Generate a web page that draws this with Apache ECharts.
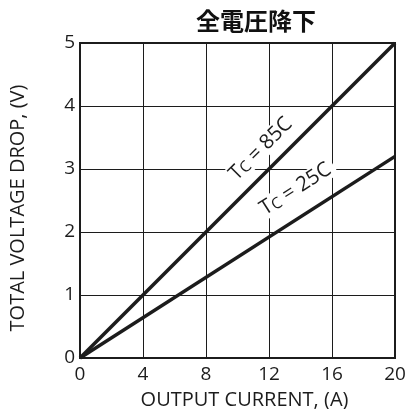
<!DOCTYPE html>
<html>
<head>
<meta charset="utf-8">
<script src="https://cdn.jsdelivr.net/npm/echarts@6/dist/echarts.min.js"></script>
<style>
  html, body { margin: 0; padding: 0; background: #fff; }
  #chart { width: 409px; height: 409px; }
</style>
</head>
<body>
<div id="chart"></div>
<script>
// Output current (A) sample points and voltage drop (V) per case temperature
const currentA = [0, 20];
const drop85C = [0, 5.0];
const drop25C = [0, 3.2];
const xTicks = [0, 4, 8, 12, 16, 20];
const yTicks = [0, 1, 2, 3, 4, 5];

// where along each line (in amps) the curve label sits
const label85At = 12.4;
const label25At = 14.6;

const INK = '#1c1c1c';
const FONT = '"Open Sans", "Noto Sans", sans-serif';

function lineAt(xs, ys, x) {
  const t = (x - xs[0]) / (xs[1] - xs[0]);
  return ys[0] + t * (ys[1] - ys[0]);
}

function curveLabel(xs, ys, at, temp, angle, lift) {
  return {
    symbol: 'circle',
    symbolSize: 0,
    silent: true,
    data: [{ coord: [at, lineAt(xs, ys, at)] }],
    label: {
      show: true,
      position: 'inside',
      rotate: angle,
      offset: [0, -lift],
      formatter: 'T{sub|C} = ' + temp,
      color: INK,
      fontFamily: FONT,
      fontSize: 20.5,
      backgroundColor: '#fff',
      padding: [0, 5, 0, 4],
      rich: {
        sub: { fontSize: 15.5, fontFamily: FONT, color: INK, padding: [5, 0, 0, 0] }
      }
    }
  };
}

const chart = echarts.init(document.getElementById('chart'), null, { renderer: 'canvas' });

chart.setOption({
  animation: false,
  backgroundColor: '#fff',
  title: {
    text: '全電圧降下',
    left: 251,
    top: 4,
    textAlign: 'center',
    textStyle: { fontFamily: '"Noto Sans CJK JP", sans-serif', fontSize: 24, fontWeight: 'bold', color: '#111' }
  },
  grid: {
    left: 80, top: 43, width: 315, height: 315,
    containLabel: false,
    outerBoundsMode: 'none',
    show: true, borderColor: INK, borderWidth: 2, backgroundColor: 'transparent'
  },
  xAxis: {
    type: 'value', min: 0, max: 20, interval: 4,
    name: 'OUTPUT CURRENT, (A)',
    nameLocation: 'middle', nameGap: 32,
    nameTextStyle: { fontFamily: FONT, fontSize: 20, color: INK, padding: [0, 0, 0, 14] },
    axisLine: { show: true, lineStyle: { color: INK, width: 2 } },
    axisTick: { show: false },
    axisLabel: {
      fontFamily: FONT, fontSize: 19, color: INK, margin: 7,
      formatter: v => (xTicks.includes(v) ? String(v) : '')
    },
    splitLine: { show: true, lineStyle: { color: INK, width: 1 } }
  },
  yAxis: {
    type: 'value', min: 0, max: 5, interval: 1,
    name: 'TOTAL VOLTAGE DROP, (V)',
    nameLocation: 'middle', nameGap: 52,
    nameTextStyle: { fontFamily: FONT, fontSize: 20, color: INK, padding: [0, 15, 0, 0] },
    axisLine: { show: true, lineStyle: { color: INK, width: 2 } },
    axisTick: { show: false },
    axisLabel: {
      fontFamily: FONT, fontSize: 19, color: INK, margin: 5,
      formatter: v => (yTicks.includes(v) ? String(v) : '')
    },
    splitLine: { show: true, lineStyle: { color: INK, width: 1 } }
  },
  series: [
    {
      name: 'Tc = 85C',
      type: 'line',
      data: currentA.map((x, i) => [x, drop85C[i]]),
      showSymbol: false,
      lineStyle: { color: INK, width: 3.5 },
      z: 3,
      markPoint: curveLabel(currentA, drop85C, label85At, '85C', 45, 20)
    },
    {
      name: 'Tc = 25C',
      type: 'line',
      data: currentA.map((x, i) => [x, drop25C[i]]),
      showSymbol: false,
      lineStyle: { color: INK, width: 3.5 },
      z: 3,
      markPoint: curveLabel(currentA, drop25C, label25At, '25C', 32.6, 26)
    }
  ]
});
</script>
</body>
</html>
